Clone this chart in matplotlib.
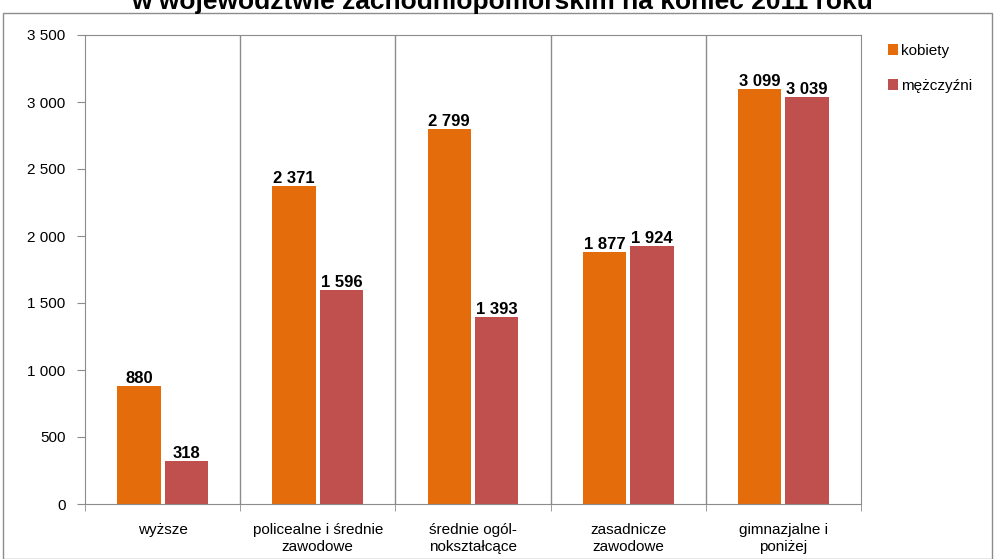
import numpy as np
import matplotlib.pyplot as plt
from matplotlib.patches import Rectangle

plt.rcParams['font.family'] = ['Liberation Sans', 'DejaVu Sans']

kategorie = ["wyższe", "policealne i średnie\nzawodowe", "średnie ogól-\nnokształcące",
             "zasadnicze\nzawodowe", "gimnazjalne i\nponiżej"]
kobiety = [880, 2371, 2799, 1877, 3099]
mezczyzni = [318, 1596, 1393, 1924, 3039]
tytul = "w województwie zachodniopomorskim na koniec 2011 roku"

kol_k = "#E46C0A"
kol_m = "#C0504D"
szary = "#8C8C8C"


def fmt(v):
	return "{:,}".format(int(v)).replace(",", " ")


def autolabel(ax, xs, vals):
	for x, v in zip(xs, vals):
		ax.text(x, v, fmt(v), ha='center', va='bottom', fontsize=12, fontweight='bold')


W, H = 994, 559
fig = plt.figure(figsize=(W / 100, H / 100), dpi=100)

# ramka wykresu
fig.patches.append(Rectangle((3 / W, 0), 989 / W, (H - 13) / H, transform=fig.transFigure,
                             fill=False, edgecolor=szary, lw=1))
fig.text(502 / W, 1 - 9 / H, tytul, ha='center', va='baseline', fontsize=19, fontweight='bold')

ax = fig.add_axes([85 / W, (H - 504) / H, 776 / W, 469 / H])
idx = np.arange(len(kategorie))
bw = 0.28
gap = 0.013
ax.bar(idx - bw / 2 - gap, kobiety, bw, color=kol_k, label="kobiety")
ax.bar(idx + bw / 2 + gap, mezczyzni, bw, color=kol_m, label="mężczyźni")
autolabel(ax, idx - bw / 2 - gap, kobiety)
autolabel(ax, idx + bw / 2 + gap, mezczyzni)

ax.set_xlim(-0.5, len(kategorie) - 0.5)
ax.set_ylim(0, 3500)
ax.set_yticks(np.arange(0, 3501, 500))
ax.set_yticklabels([fmt(v) for v in np.arange(0, 3501, 500)], fontsize=11)
ax.set_xticks(idx)
ax.set_xticklabels(kategorie, fontsize=11)
ax.set_xticks(np.arange(-0.5, len(kategorie)), minor=True)
ax.tick_params(axis='x', which='major', length=0, pad=14)
ax.tick_params(axis='x', which='minor', length=5, color=szary)
ax.tick_params(axis='y', length=6, color=szary, pad=8)
for b in np.arange(0.5, len(kategorie) - 0.5):
	ax.axvline(b, color=szary, lw=1, zorder=0)
for s in ax.spines.values():
	s.set_color(szary)

fig.legend(loc='upper left', bbox_to_anchor=(874 / W, 1 - 30 / H), frameon=False,
           fontsize=11, handlelength=0.7, handleheight=0.7, handletextpad=0.2, labelspacing=1.4)

plt.savefig("out.png", dpi=100)
